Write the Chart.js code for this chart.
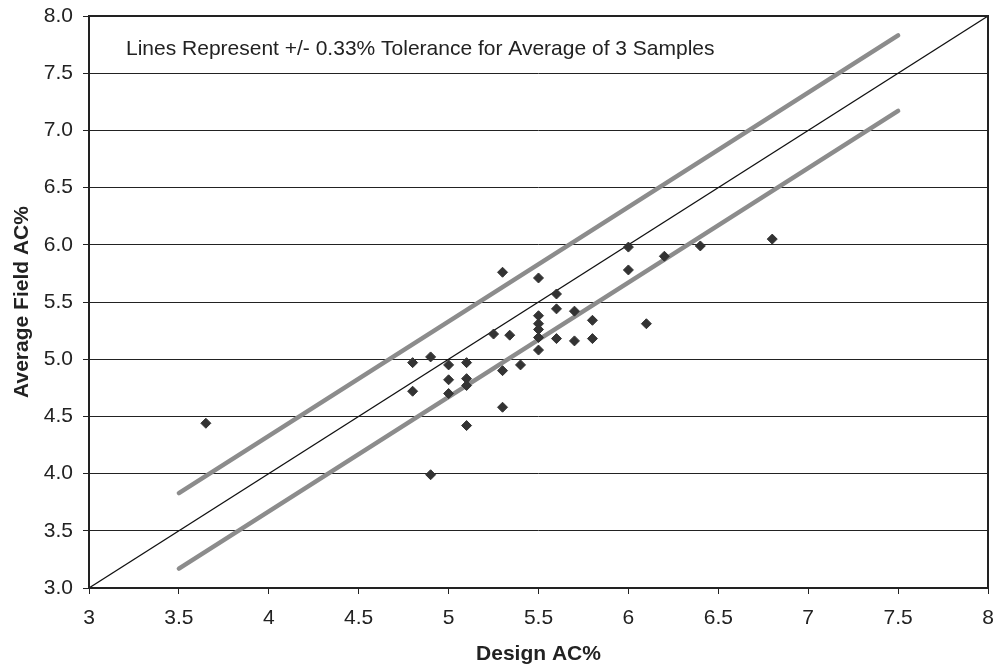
<!DOCTYPE html>
<html>
<head>
<meta charset="utf-8">
<script src="https://cdn.jsdelivr.net/npm/chart.js@4"></script>
<style>
  html, body { margin: 0; padding: 0; background: #fff; }
  #wrap { width: 994px; height: 669px; }
</style>
</head>
<body>
<div id="wrap"><canvas id="acChart"></canvas></div>
<script>
// values
const designAC = [3.65, 4.8, 4.8, 4.9, 4.9, 5.0, 5.0, 5.0, 5.1, 5.1, 5.1, 5.1, 5.25, 5.3, 5.3, 5.3, 5.34, 5.4,
    5.5, 5.5, 5.5, 5.5, 5.5, 5.5, 5.6, 5.6, 5.6, 5.7, 5.7, 5.8, 5.8, 6.0, 6.0, 6.1, 6.2, 6.4, 6.8];
const fieldAC = [4.44, 4.97, 4.72, 5.02, 3.99, 4.95, 4.82, 4.70, 4.97, 4.83, 4.77, 4.42, 5.22, 5.76, 4.90, 4.58, 5.21, 4.95,
    5.71, 5.38, 5.31, 5.26, 5.19, 5.08, 5.57, 5.44, 5.18, 5.42, 5.16, 5.34, 5.18, 5.98, 5.78, 5.31, 5.90, 5.99, 6.05];

const toleranceX = [3.5, 7.5];
const upperLimit = [3.83, 7.83];
const lowerLimit = [3.17, 7.17];
const equalityLine = [3, 8];

const xTicks = [3, 3.5, 4, 4.5, 5, 5.5, 6, 6.5, 7, 7.5, 8];
const yTicks = [3.0, 3.5, 4.0, 4.5, 5.0, 5.5, 6.0, 6.5, 7.0, 7.5, 8.0];
const noteText = 'Lines Represent +/- 0.33% Tolerance for Average of 3 Samples';

const pts = (xs, ys) => xs.map((x, i) => ({ x: x, y: ys[i] }));

Chart.defaults.font.family = "'Liberation Sans', Arial, sans-serif";
Chart.defaults.color = '#222';

const framePlugin = {
    id: 'frame',
    afterDraw(chart) {
        const a = chart.chartArea, ctx = chart.ctx;
        ctx.save();
        ctx.strokeStyle = '#222';
        ctx.lineWidth = 2;
        ctx.strokeRect(a.left, a.top, a.right - a.left, a.bottom - a.top);
        ctx.fillStyle = '#222';
        ctx.font = "21px 'Liberation Sans', Arial, sans-serif";
        ctx.textBaseline = 'middle';
        ctx.fillText(noteText, a.left + 37, a.top + 33);
        ctx.restore();
    }
};

new Chart(document.getElementById('acChart').getContext('2d'), {
    type: 'scatter',
    data: {
        datasets: [
            {
                label: 'Samples',
                data: pts(designAC, fieldAC),
                pointStyle: 'rectRot',
                pointRadius: 5,
                backgroundColor: '#333',
                borderColor: '#333',
                order: 0
            },
            {
                label: 'Upper',
                type: 'line',
                data: pts(toleranceX, upperLimit),
                borderColor: '#8c8c8c',
                borderWidth: 4.5,
                borderCapStyle: 'round',
                pointRadius: 0,
                order: 2
            },
            {
                label: 'Lower',
                type: 'line',
                data: pts(toleranceX, lowerLimit),
                borderColor: '#8c8c8c',
                borderWidth: 4.5,
                borderCapStyle: 'round',
                pointRadius: 0,
                order: 2
            },
            {
                label: 'Equality',
                type: 'line',
                data: pts(equalityLine, equalityLine),
                borderColor: '#111',
                borderWidth: 1.2,
                pointRadius: 0,
                order: 1
            }
        ]
    },
    options: {
        responsive: true,
        maintainAspectRatio: false,
        animation: false,
        layout: { padding: { top: 16, right: 6, left: 10, bottom: 0 } },
        plugins: {
            legend: { display: false },
            tooltip: { enabled: false }
        },
        scales: {
            x: {
                type: 'linear',
                min: 3, max: 8,
                afterBuildTicks: s => { s.ticks = xTicks.map(v => ({ value: v })); },
                afterFit: s => { s.height = 81; s.paddingLeft = 0; s.paddingRight = 0; },
                grid: { drawOnChartArea: false, color: '#222', tickLength: 6 },
                border: { display: false },
                ticks: { font: { size: 21 }, padding: 12, color: '#222', maxRotation: 0, callback: v => String(v) },
                title: { display: true, text: 'Design AC%', font: { size: 21, weight: 'bold' }, color: '#222', padding: { top: 0, bottom: 2 } }
            },
            y: {
                min: 3, max: 8,
                afterBuildTicks: s => { s.ticks = yTicks.map(v => ({ value: v })); },
                afterFit: s => { s.width = 79; s.paddingTop = 0; s.paddingBottom = 0; },
                grid: { color: '#222', lineWidth: 1, tickLength: 6 },
                border: { display: false },
                ticks: { font: { size: 21 }, padding: 10, color: '#222', callback: v => v.toFixed(1) },
                title: { display: true, text: 'Average Field AC%', font: { size: 21, weight: 'bold' }, color: '#222', padding: { top: 0, bottom: 0 } }
            }
        }
    },
    plugins: [framePlugin]
});
</script>
</body>
</html>
